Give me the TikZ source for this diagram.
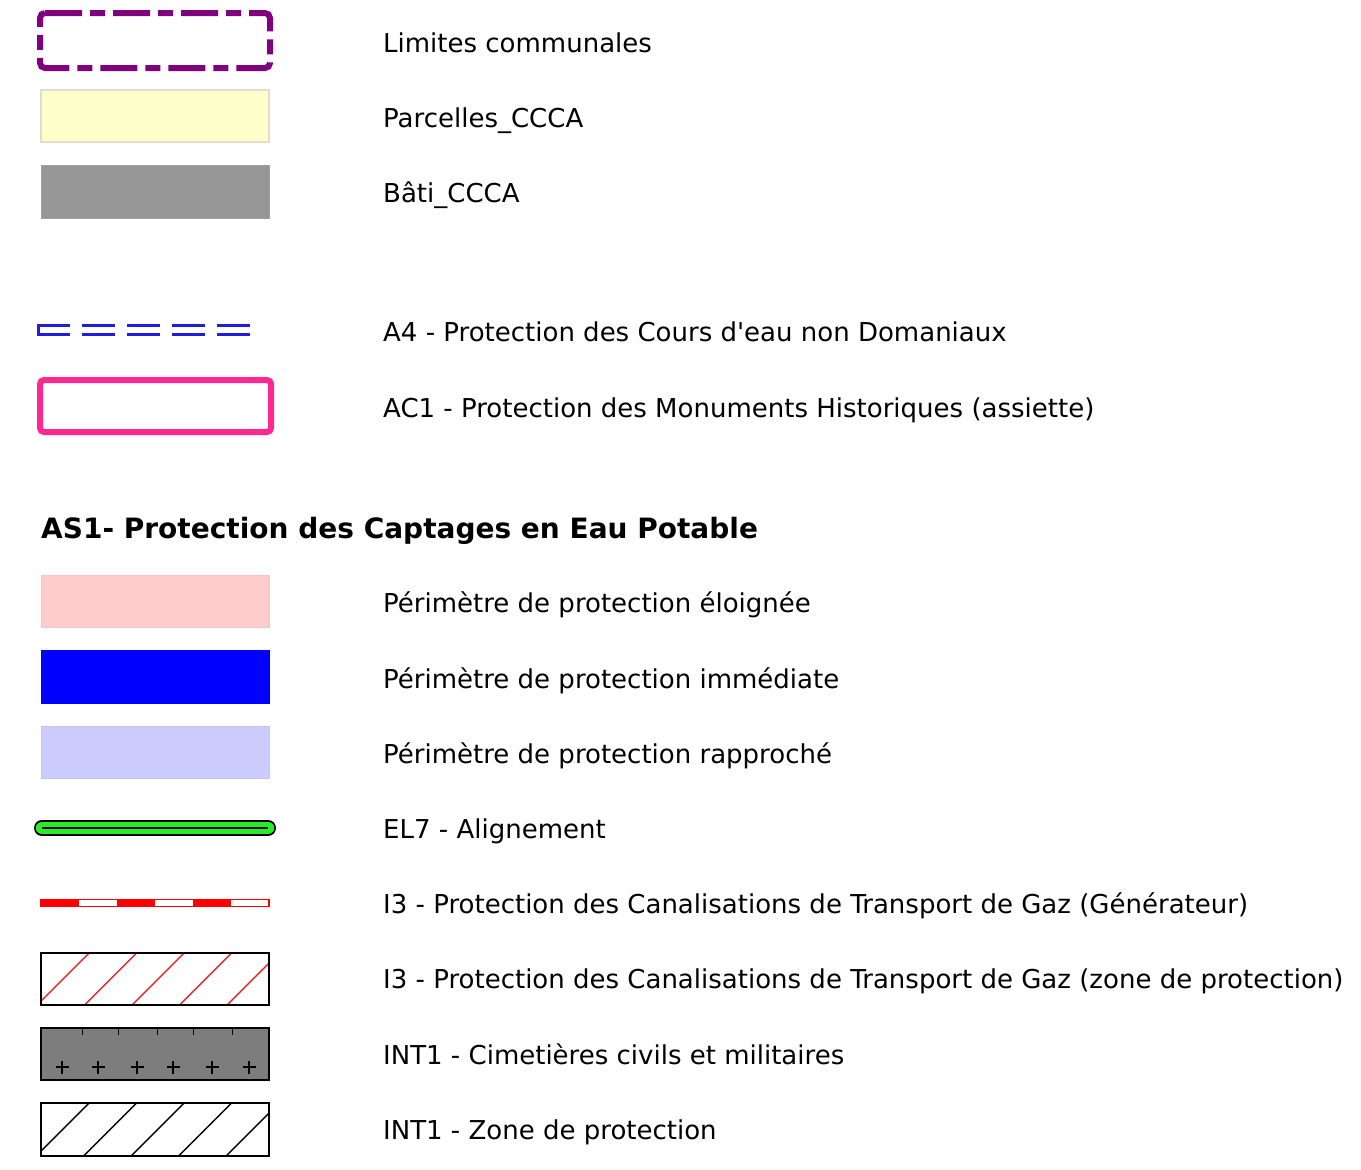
\documentclass[tikz,border=0pt]{standalone}
\usepackage{fontspec}
\setmainfont{DejaVu Sans}
\definecolor{cpurple}{RGB}{128,0,128}
\definecolor{cyellow}{RGB}{255,255,204}
\definecolor{cyellowb}{RGB}{222,222,205}
\definecolor{cgray}{RGB}{150,150,150}
\definecolor{cblueA}{RGB}{30,30,220}
\definecolor{cpink}{RGB}{255,40,145}
\definecolor{cpinkfill}{RGB}{255,204,204}
\definecolor{cblue}{RGB}{0,0,255}
\definecolor{clblue}{RGB}{204,204,255}
\definecolor{cgreen}{RGB}{40,235,40}
\definecolor{cred}{RGB}{255,0,0}
\definecolor{chatch}{RGB}{225,40,40}
\definecolor{ccem}{RGB}{125,125,125}
\begin{document}
\begin{tikzpicture}[x=1pt,y=-1pt,
  lbl/.style={anchor=base west,inner sep=0pt,font=\fontsize{26}{30}\selectfont},
  head/.style={anchor=base west,inner sep=0pt,font=\fontsize{28}{32}\selectfont\bfseries},
  box/.style={line width=1.5pt}]
\useasboundingbox[fill=white] (0,0) rectangle (1361,1170);
% Row 1 Limites communales
\draw[cpurple,line width=6pt,rounded corners=5pt,dash pattern=on 37pt off 8pt on 15pt off 8pt]
  (40,13) -- (270,13) -- (270,68) -- (40,68) -- cycle;
\node[lbl] (t1) at (383,52) {Limites communales};
% Row 2 Parcelles
\draw[fill=cyellow,draw=cyellowb,line width=1.5pt] (41,90) rectangle (269,142);
\node[lbl] (t2) at (383,127) {Parcelles\_CCCA};
% Row 3 Bati
\draw[fill=cgray,draw=cgray!90!white,line width=1pt] (41,165) rectangle (269,218);
\node[lbl] (t3) at (383,202) {Bâti\_CCCA};
% Row 4 A4
\draw[cblueA,line width=2.6pt,dash pattern=on 33pt off 12pt] (37,325.5) -- (253,325.5);
\draw[cblueA,line width=2.6pt,dash pattern=on 33pt off 12pt] (37,334.5) -- (253,334.5);
\draw[cblueA,line width=2.6pt] (38.3,324.2) -- (38.3,335.8);
\node[lbl] (t4) at (383,341) {A4 - Protection des Cours d\textquotesingle eau non Domaniaux};
% Row 5 AC1
\draw[cpink,line width=6pt,rounded corners=4pt] (40,380) rectangle (271,432);
\node[lbl] (t5) at (383,417) {AC1 - Protection des Monuments Historiques (assiette)};
% Heading
\node[head] (h) at (41,538) {AS1- Protection des Captages en Eau Potable};
% Row 6
\draw[fill=cpinkfill,draw=cpinkfill!90!gray,line width=1pt] (41,575) rectangle (269,627);
\node[lbl] (t6) at (383,612) {Périmètre de protection éloignée};
% Row 7
\draw[fill=cblue,draw=cblue,line width=1pt] (41,650) rectangle (269,703);
\node[lbl] (t7) at (383,688) {Périmètre de protection immédiate};
% Row 8
\draw[fill=clblue,draw=clblue!90!gray,line width=1pt] (41,726) rectangle (269,778);
\node[lbl] (t8) at (383,763) {Périmètre de protection rapproché};
% Row 9 EL7
\draw[black,line width=16pt,line cap=round] (42,828) -- (268,828);
\draw[cgreen,line width=12.5pt,line cap=round] (42,828) -- (268,828);
\draw[black,line width=1.6pt] (42,828) -- (268,828);
\node[lbl] (t9) at (383,838) {EL7 - Alignement};
% Row 10 I3 line
\draw[cred,fill=white,line width=1.2pt] (41,899.5) rectangle (269,906.5);
\foreach \a in {41,117,193} {\fill[cred] (\a,899) rectangle (\a+38,907);}
\node[lbl] (t10) at (383,913) {I3 - Protection des Canalisations de Transport de Gaz (Générateur)};
% Row 11 I3 zone
\begin{scope}
  \clip (41,953) rectangle (269,1005);
  \foreach \c in {994.5,1042,1089.5,1137,1184.5,1232} {\draw[chatch,line width=1.4pt] (\c-1010,1010) -- (\c-945,945);}
\end{scope}
\draw[black,box] (41,953) rectangle (269,1005);
\node[lbl] (t11) at (383,988) {I3 - Protection des Canalisations de Transport de Gaz (zone de protection)};
% Row 12 INT1 cimetieres
\draw[fill=ccem,draw=black,box] (41,1028) rectangle (269,1080);
\foreach \a in {82,118,157,193,232} {\draw[black,line width=1pt] (\a,1028) -- (\a,1035);}
\foreach \a in {62,98,137,173,212,249} {\draw[black,line width=1.2pt] (\a-6.5,1067) -- (\a+6.5,1067) (\a,1060.5) -- (\a,1073.5);}
\node[lbl] (t12) at (383,1064) {INT1 - Cimetières civils et militaires};
% Row 13 INT1 zone
\begin{scope}
  \clip (41,1103) rectangle (269,1156);
  \foreach \c in {1144.5,1192,1239.5,1287,1334.5,1382} {\draw[black,line width=1.4pt] (\c-1160,1160) -- (\c-1095,1095);}
\end{scope}
\draw[black,box] (41,1103) rectangle (269,1156);
\node[lbl] (t13) at (383,1139) {INT1 - Zone de protection};
\end{tikzpicture}
\end{document}
